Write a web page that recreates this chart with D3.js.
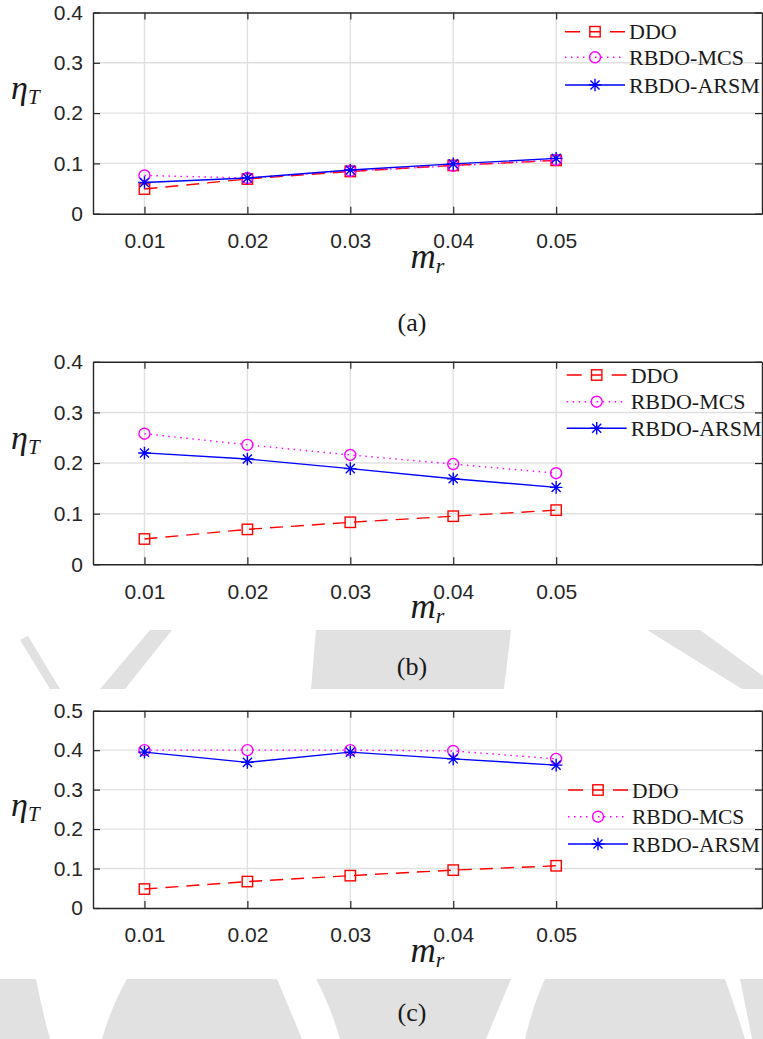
<!DOCTYPE html>
<html>
<head>
<meta charset="utf-8">
<script src="https://cdn.jsdelivr.net/npm/d3@7"></script>
<style>
  html, body { margin: 0; padding: 0; background: #fff; }
  svg { display: block; }
  .tick text { font-family: "Liberation Sans", Arial, sans-serif; font-size: 21px; fill: #262626; }
  .serif { font-family: "Liberation Serif", "Times New Roman", serif; fill: #1a1a1a; }
</style>
</head>
<body>
<svg id="chart" width="763" height="1039"></svg>
<script>
// data
const mrValues = [0.01, 0.02, 0.03, 0.04, 0.05];
const seriesNames = ['DDO', 'RBDO-MCS', 'RBDO-ARSM'];

const ddoA = [0.049, 0.069, 0.084, 0.096, 0.106];
const mcsA = [0.076, 0.071, 0.085, 0.095, 0.107];
const arsmA = [0.062, 0.071, 0.087, 0.099, 0.110];

const ddoB = [0.050, 0.069, 0.083, 0.095, 0.107];
const mcsB = [0.258, 0.236, 0.216, 0.198, 0.180];
const arsmB = [0.220, 0.208, 0.189, 0.169, 0.152];

const ddoC = [0.048, 0.067, 0.082, 0.096, 0.107];
const mcsC = [0.400, 0.400, 0.400, 0.398, 0.378];
const arsmC = [0.395, 0.369, 0.395, 0.378, 0.362];

const yTicksAB = [0, 0.1, 0.2, 0.3, 0.4];
const yTicksC = [0, 0.1, 0.2, 0.3, 0.4, 0.5];
const captions = ['(a)', '(b)', '(c)'];

const AXIS = '#262626';
const GRID = '#e0e0e0';
const STYLES = [
  { color: '#ff0000', dash: '13,8', marker: 'square' },
  { color: '#ff00ff', dash: '1.5,4.5', marker: 'circle' },
  { color: '#0000ff', dash: null, marker: 'star' }
];

const panels = [
  { top: 12.5, bottom: 213.7, ticks: yTicksAB, data: [ddoA, mcsA, arsmA], capY: 331, legX: 565, legY: [31.7, 57.3, 85], legFont: 22, etaY: 99 },
  { top: 361.8, bottom: 564.3, ticks: yTicksAB, data: [ddoB, mcsB, arsmB], capY: 675, legX: 566.7, legY: [375, 401.7, 428.3], legFont: 22, etaY: 449 },
  { top: 710.7, bottom: 908, ticks: yTicksC, data: [ddoC, mcsC, arsmC], capY: 1021, legX: 568, legY: [790, 816.7, 844], legFont: 21.5, etaY: 816 }
];

const LEFT = 93, RIGHT = 762;
const svg = d3.select('#chart');

// faint scan watermark behind panels (b) and (c)
const wm = svg.append('g').attr('fill', '#e1e1e1');
[
  'M316,630 L511,630 L504,689 L311,689 Z',
  'M150,630 L172,630 L125,689 L100,689 Z',
  'M20,640 L28,636 L60,689 L50,689 Z',
  'M647,630 L700,630 L763,676 L763,689 L742,689 Z',
  'M0,979 L36,979 Q42,1010 50,1039 L0,1039 Z',
  'M127,979 L277,979 Q290,1010 302,1039 L102,1039 Q112,1005 127,979 Z',
  'M316,979 L511,979 Q498,1010 486,1039 L340,1039 Q330,1005 316,979 Z',
  'M545,979 L725,979 Q736,1010 745,1039 L525,1039 Q533,1005 545,979 Z',
  'M740,979 L763,979 L763,1039 L752,1039 Z'
].forEach(d => wm.append('path').attr('d', d));

const x = d3.scaleLinear().domain([0.005, 0.07]).range([LEFT, RIGHT]);

function drawMarker(g, type, cx, cy, color) {
  if (type === 'square') {
    g.append('rect').attr('x', cx - 5.2).attr('y', cy - 5.2).attr('width', 10.4).attr('height', 10.4)
      .attr('fill', 'none').attr('stroke', color).attr('stroke-width', 1.4);
  } else if (type === 'circle') {
    g.append('circle').attr('cx', cx).attr('cy', cy).attr('r', 5.5)
      .attr('fill', 'none').attr('stroke', color).attr('stroke-width', 1.4);
  } else {
    const r = 6.3, d = r * 0.72;
    const p = `M${cx - r},${cy}H${cx + r}M${cx},${cy - r}V${cy + r}` +
      `M${cx - d},${cy - d}L${cx + d},${cy + d}M${cx - d},${cy + d}L${cx + d},${cy - d}`;
    g.append('path').attr('d', p).attr('stroke', color).attr('stroke-width', 1.4).attr('fill', 'none');
  }
}

panels.forEach((p, i) => {
  const yMax = d3.max(p.ticks);
  const y = d3.scaleLinear().domain([0, yMax]).range([p.bottom, p.top]);
  const g = svg.append('g');

  // grid
  g.append('g').selectAll('line').data(mrValues).join('line')
    .attr('x1', d => x(d)).attr('x2', d => x(d)).attr('y1', p.top).attr('y2', p.bottom)
    .attr('stroke', GRID).attr('stroke-width', 1.4);
  g.append('g').selectAll('line').data(p.ticks.slice(1, -1)).join('line')
    .attr('x1', LEFT).attr('x2', RIGHT).attr('y1', d => y(d)).attr('y2', d => y(d))
    .attr('stroke', GRID).attr('stroke-width', 1.4);

  // series
  const line = d3.line().x((d, k) => x(mrValues[k])).y(d => y(d));
  p.data.forEach((vals, s) => {
    const st = STYLES[s];
    g.append('path').datum(vals).attr('d', line)
      .attr('fill', 'none').attr('stroke', st.color).attr('stroke-width', 1.4)
      .attr('stroke-dasharray', st.dash);
    const mg = g.append('g');
    vals.forEach((v, k) => drawMarker(mg, st.marker, x(mrValues[k]), y(v), st.color));
  });

  // axes (ticks point inward, box on)
  const fmtY = d => d === 0 ? '0' : d3.format('.1f')(d);
  const styleAxis = a => {
    a.selectAll('.domain').attr('stroke', AXIS).attr('stroke-width', 1.4);
    a.selectAll('.tick line').attr('stroke', AXIS).attr('stroke-width', 1.2);
  };
  g.append('g').attr('transform', `translate(${LEFT},0)`)
    .call(d3.axisLeft(y).tickValues(p.ticks).tickFormat(fmtY).tickSizeInner(-7).tickSizeOuter(0).tickPadding(10))
    .call(styleAxis).call(a => a.selectAll('text').attr('font-family', null).attr('font-size', null));
  g.append('g').attr('transform', `translate(${RIGHT},0)`)
    .call(d3.axisRight(y).tickValues(p.ticks).tickFormat('').tickSizeInner(-7).tickSizeOuter(0))
    .call(styleAxis);
  g.append('g').attr('transform', `translate(0,${p.bottom})`)
    .call(d3.axisBottom(x).tickValues(mrValues).tickFormat(d3.format('.2f')).tickSizeInner(-7).tickSizeOuter(0).tickPadding(19.5))
    .call(styleAxis).call(a => a.selectAll('text').attr('font-family', null).attr('font-size', null));
  g.append('g').attr('transform', `translate(0,${p.top})`)
    .call(d3.axisTop(x).tickValues(mrValues).tickFormat('').tickSizeInner(-7).tickSizeOuter(0))
    .call(styleAxis);

  // axis titles
  const xl = g.append('text').attr('class', 'serif').attr('x', (LEFT + RIGHT) / 2).attr('y', p.bottom + 54)
    .attr('text-anchor', 'middle').attr('font-style', 'italic');
  xl.append('tspan').attr('font-size', 35).text('m');
  xl.append('tspan').attr('font-size', 22).attr('dy', 5).text('r');

  const yl = g.append('text').attr('class', 'serif').attr('x', 11).attr('y', p.etaY).attr('font-style', 'italic');
  yl.append('tspan').attr('font-size', 34).text('η');
  yl.append('tspan').attr('font-size', 21).attr('dy', 5).text('T');

  // legend
  const lg = g.append('g');
  seriesNames.forEach((name, s) => {
    const st = STYLES[s];
    const ly = p.legY[s], lx = p.legX;
    const dash = s === 0 ? '15,10,10,10,15' : st.dash;
    lg.append('line').attr('x1', lx).attr('x2', lx + 60).attr('y1', ly).attr('y2', ly)
      .attr('stroke', st.color).attr('stroke-width', 1.4).attr('stroke-dasharray', dash);
    drawMarker(lg, st.marker, lx + 30, ly, st.color);
    lg.append('text').attr('class', 'serif').attr('x', lx + 64).attr('y', ly + 7.5)
      .attr('font-size', p.legFont).text(name);
  });

  // caption
  g.append('text').attr('class', 'serif').attr('x', 412).attr('y', p.capY)
    .attr('text-anchor', 'middle').attr('font-size', 26).text(captions[i]);
});
</script>
</body>
</html>
